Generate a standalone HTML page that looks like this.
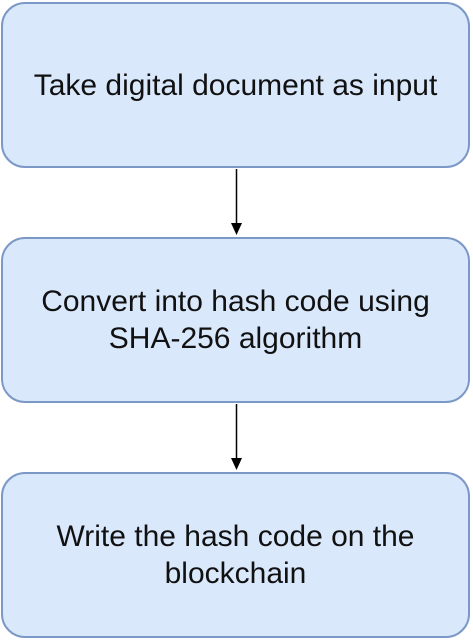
<!DOCTYPE html>
<html><head><style>
body{margin:0;width:473px;height:641px;background:#fff;position:relative;overflow:hidden;font-family:"Liberation Sans",Arial,sans-serif}
.b{position:absolute;left:1px;width:469px;height:166px;background:#dae8fc;border:2px solid #7b98c6;border-radius:24px;display:flex;align-items:center;justify-content:center;text-align:center;font-size:30px;line-height:37px;color:#111;box-sizing:border-box}
</style></head><body>
<div class="b" style="top:2px">Take digital document as input</div>
<div class="b" style="top:237px">Convert into hash code using<br>SHA-256 algorithm</div>
<div class="b" style="top:472px">Write the hash code on the<br>blockchain</div>
<svg width="473" height="641" style="position:absolute;left:0;top:0">
<line x1="236.5" y1="169" x2="236.5" y2="226" stroke="#000" stroke-width="1.5"/>
<polygon points="231,223 242,223 236.5,235" fill="#000"/>
<line x1="236.5" y1="404" x2="236.5" y2="461" stroke="#000" stroke-width="1.5"/>
<polygon points="231,458 242,458 236.5,470" fill="#000"/>
</svg>
</body></html>
